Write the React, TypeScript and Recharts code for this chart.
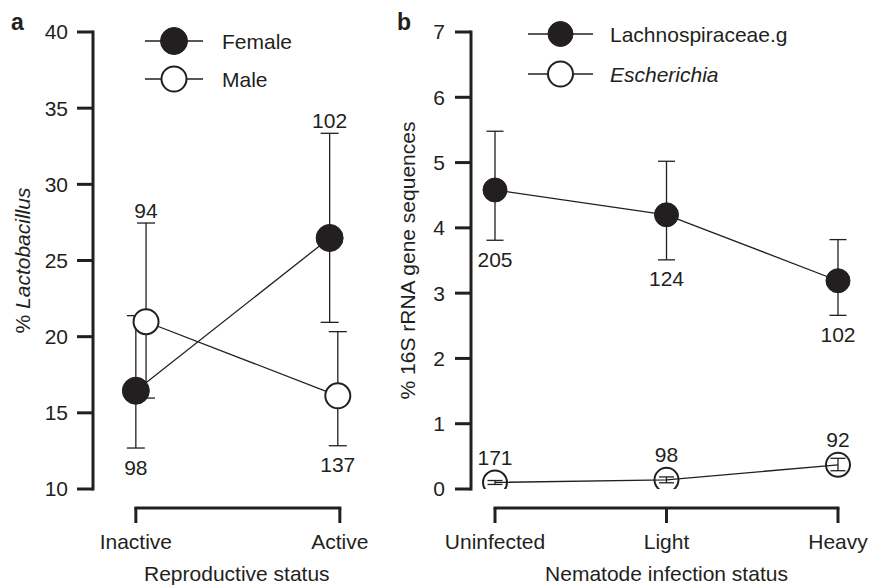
import React from 'react';
import {
  ComposedChart,
  Line,
  XAxis,
  YAxis,
  ErrorBar,
  ReferenceLine,
  LabelList,
  Legend,
  Label,
} from 'recharts';

// ---------------- data ----------------
const reproCategories = ['Inactive', 'Active'];
const femaleMean = [16.45, 26.48];
const femaleLow = [12.69, 20.94];
const femaleHigh = [21.38, 33.35];
const femaleN = [98, 102];
const femaleDodge = [0, -0.05];
const femaleLabelSide = ['below', 'above'];

const maleMean = [20.98, 16.12];
const maleLow = [15.97, 12.84];
const maleHigh = [27.46, 20.33];
const maleN = [94, 137];
const maleDodge = [0.05, -0.01];
const maleLabelSide = ['above', 'below'];

const reproTicks = [10, 15, 20, 25, 30, 35, 40];

const infectionCategories = ['Uninfected', 'Light', 'Heavy'];
const lachnoMean = [4.58, 4.2, 3.19];
const lachnoLow = [3.81, 3.51, 2.66];
const lachnoHigh = [5.48, 5.02, 3.82];
const lachnoN = [205, 124, 102];
const lachnoLabelSide = ['below', 'below', 'below'];

const escherMean = [0.1, 0.14, 0.37];
const escherLow = [0.07, 0.095, 0.28];
const escherHigh = [0.13, 0.185, 0.47];
const escherN = [171, 98, 92];
const escherLabelSide = ['marker', 'marker', 'marker'];

const infectionTicks = [0, 1, 2, 3, 4, 5, 6, 7];

const legendOrder = ['Female', 'Male', 'Lachnospiraceae.g', 'Escherichia'];

// ---------------- style ----------------
const FONT = '"Liberation Sans", Arial, Helvetica, sans-serif';
const INK = '#231f20';
const FS = 21;
const PLOT_TOP = 32;
const PLOT_BOTTOM = 489;
const CHART_H = 586;
const X_AXIS_H = CHART_H - PLOT_BOTTOM;

type Row = {
  x: number;
  mean: number;
  err: [number, number];
  n: number;
  anchor: number;
  side: string;
};

function buildRows(
  mean: number[],
  low: number[],
  high: number[],
  n: number[],
  side: string[],
  dodge?: number[]
): Row[] {
  return mean.map((m, i) => ({
    x: i + (dodge ? dodge[i] : 0),
    mean: m,
    err: [m - low[i], high[i] - m] as [number, number],
    n: n[i],
    anchor: side[i] === 'above' ? high[i] : side[i] === 'below' ? low[i] : m,
    side: side[i],
  }));
}

const femaleRows = buildRows(femaleMean, femaleLow, femaleHigh, femaleN, femaleLabelSide, femaleDodge);
const maleRows = buildRows(maleMean, maleLow, maleHigh, maleN, maleLabelSide, maleDodge);
const lachnoRows = buildRows(lachnoMean, lachnoLow, lachnoHigh, lachnoN, lachnoLabelSide);
const escherRows = buildRows(escherMean, escherLow, escherHigh, escherN, escherLabelSide);

const LABEL_DY: Record<string, number> = { above: -13, below: 19, marker: -25 };

const makeCountLabel = (rows: Row[]) => (props: any) => {
  const { x, y, index, value } = props;
  const side = rows[index] ? rows[index].side : 'above';
  return (
    <text
      x={x}
      y={y + LABEL_DY[side]}
      dy="0.36em"
      textAnchor="middle"
      fontSize={FS}
      fontFamily={FONT}
      fill={INK}
    >
      {value}
    </text>
  );
};

type SeriesStyle = { r: number; fill: string; legendFill: string; strokeWidth: number; italic: boolean };
const seriesStyles: Record<string, SeriesStyle> = {
  Female: { r: 13.5, fill: INK, legendFill: INK, strokeWidth: 1, italic: false },
  Male: { r: 12.5, fill: '#ffffff', legendFill: '#ffffff', strokeWidth: 2, italic: false },
  'Lachnospiraceae.g': { r: 12.5, fill: INK, legendFill: INK, strokeWidth: 1, italic: false },
  Escherichia: { r: 12.5, fill: 'none', legendFill: '#ffffff', strokeWidth: 2, italic: true },
};

const makeLegend =
  (rowGap: number, lineX0: number, lineX1: number, textX: number) => (props: any) => {
    const payload = ((props && props.payload) || [])
      .filter((p: any) => p && p.type !== 'none' && seriesStyles[p.value])
      .slice()
      .sort((a: any, b: any) => legendOrder.indexOf(a.value) - legendOrder.indexOf(b.value));
    const cx = (lineX0 + lineX1) / 2;
    return (
      <svg width={300} height={rowGap * 2 + 10} style={{ overflow: 'visible', display: 'block' }}>
        {payload.map((p: any, i: number) => {
          const st = seriesStyles[p.value];
          const cy = 21 + i * rowGap;
          return (
            <g key={p.value}>
              <line x1={lineX0} x2={lineX1} y1={cy} y2={cy} stroke={INK} strokeWidth={1.3} />
              <circle cx={cx} cy={cy} r={st.r} fill={st.legendFill} stroke={INK} strokeWidth={st.strokeWidth} />
              <text
                x={textX}
                y={cy}
                dy="0.36em"
                fontSize={FS}
                fontFamily={FONT}
                fill={INK}
                fontStyle={st.italic ? 'italic' : 'normal'}
              >
                {p.value}
              </text>
            </g>
          );
        })}
      </svg>
    );
  };

const makeCatTick = (cats: string[]) => (props: any) => {
  const { x, y, payload } = props;
  return (
    <text x={x} y={y + 60} textAnchor="middle" fontSize={FS} fontFamily={FONT} fill={INK}>
      {cats[payload.value]}
    </text>
  );
};

const makeYLabel = (dx: number, parts: { t: string; italic?: boolean }[]) => (props: any) => {
  const vb = props.viewBox || { x: 0, y: 0, width: 0, height: 0 };
  const cx = vb.x + dx;
  const cy = vb.y + vb.height / 2;
  return (
    <text
      x={cx}
      y={cy}
      dy="0.36em"
      transform={`rotate(-90 ${cx} ${cy})`}
      textAnchor="middle"
      fontSize={FS}
      fontFamily={FONT}
      fill={INK}
    >
      {parts.map((p, i) => (
        <tspan key={i} fontStyle={p.italic ? 'italic' : 'normal'}>
          {p.t}
        </tspan>
      ))}
    </text>
  );
};

function bracketLines(nCats: number, yMin: number, yMax: number) {
  const ppu = (PLOT_BOTTOM - PLOT_TOP) / (yMax - yMin);
  const yb = yMin - 19 / ppu;
  const yt = yMin - 34 / ppu;
  const els = [
    <ReferenceLine
      key="h"
      segment={[
        { x: 0, y: yb },
        { x: nCats - 1, y: yb },
      ]}
      stroke={INK}
      strokeWidth={3}
      strokeLinecap="square"
      ifOverflow="visible"
    />,
  ];
  for (let i = 0; i < nCats; i++) {
    els.push(
      <ReferenceLine
        key={'t' + i}
        segment={[
          { x: i, y: yb },
          { x: i, y: yt },
        ]}
        stroke={INK}
        strokeWidth={3}
        ifOverflow="visible"
      />
    );
  }
  return els;
}

const axisLineStyle = { stroke: INK, strokeWidth: 3, strokeLinecap: 'square' as const };
const tickLineStyle = { stroke: INK, strokeWidth: 3 };
const tickTextStyle = { fill: INK, fontSize: FS, fontFamily: FONT };

function PanelA() {
  return (
    <ComposedChart width={390} height={CHART_H} margin={{ top: PLOT_TOP, right: 9.36, bottom: 0, left: 23 }}>
      <XAxis
        type="number"
        dataKey="x"
        domain={[-0.21, 1.2]}
        ticks={[0, 1]}
        axisLine={false}
        tickLine={false}
        tickSize={0}
        tickMargin={0}
        height={X_AXIS_H}
        tick={makeCatTick(reproCategories)}
        allowDataOverflow
      >
        <Label value="Reproductive status" position="insideBottom" offset={5} fill={INK} fontSize={FS} fontFamily={FONT} />
      </XAxis>
      <YAxis
        type="number"
        domain={[10, 40]}
        ticks={reproTicks}
        width={70}
        axisLine={axisLineStyle}
        tickLine={tickLineStyle}
        tickSize={16}
        tickMargin={9}
        tick={tickTextStyle}
        allowDataOverflow
      >
        <Label content={makeYLabel(-1, [{ t: '% ' }, { t: 'Lactobacillus', italic: true }])} />
      </YAxis>
      {bracketLines(reproCategories.length, 10, 40)}
      <Legend
        layout="vertical"
        align="center"
        verticalAlign="middle"
        wrapperStyle={{ left: 140, top: 20, width: 260 }}
        content={makeLegend(38, 5, 63, 82)}
      />
      <Line data={maleRows} dataKey="mean" stroke="none" dot={false} activeDot={false} legendType="none" isAnimationActive={false}>
        <ErrorBar dataKey="err" direction="y" width={9} stroke={INK} strokeWidth={1.3} />
      </Line>
      <Line data={femaleRows} dataKey="mean" stroke="none" dot={false} activeDot={false} legendType="none" isAnimationActive={false}>
        <ErrorBar dataKey="err" direction="y" width={9} stroke={INK} strokeWidth={1.3} />
      </Line>
      <Line
        data={femaleRows}
        dataKey="mean"
        name="Female"
        stroke={INK}
        strokeWidth={1.3}
        dot={{ r: 13.5, fill: INK, stroke: INK, strokeWidth: 1 }}
        activeDot={false}
        isAnimationActive={false}
      />
      <Line
        data={maleRows}
        dataKey="mean"
        name="Male"
        stroke={INK}
        strokeWidth={1.3}
        dot={{ r: 12.5, fill: '#ffffff', stroke: INK, strokeWidth: 2 }}
        activeDot={false}
        isAnimationActive={false}
      />
      <Line data={femaleRows} dataKey="anchor" stroke="none" dot={false} activeDot={false} legendType="none" isAnimationActive={false}>
        <LabelList dataKey="n" content={makeCountLabel(femaleRows)} />
      </Line>
      <Line data={maleRows} dataKey="anchor" stroke="none" dot={false} activeDot={false} legendType="none" isAnimationActive={false}>
        <LabelList dataKey="n" content={makeCountLabel(maleRows)} />
      </Line>
    </ComposedChart>
  );
}

function PanelB() {
  return (
    <ComposedChart width={479} height={CHART_H} margin={{ top: PLOT_TOP, right: 7, bottom: 0, left: 31 }}>
      <XAxis
        type="number"
        dataKey="x"
        domain={[-0.14, 2.14]}
        ticks={[0, 1, 2]}
        axisLine={false}
        tickLine={false}
        tickSize={0}
        tickMargin={0}
        height={X_AXIS_H}
        tick={makeCatTick(infectionCategories)}
        allowDataOverflow
      >
        <Label value="Nematode infection status" position="insideBottom" offset={5} fill={INK} fontSize={FS} fontFamily={FONT} />
      </XAxis>
      <YAxis
        type="number"
        domain={[0, 7]}
        ticks={infectionTicks}
        width={50}
        axisLine={axisLineStyle}
        tickLine={tickLineStyle}
        tickSize={16}
        tickMargin={10}
        tick={tickTextStyle}
        allowDataOverflow
      >
        <Label content={makeYLabel(-14, [{ t: '% 16S rRNA gene sequences' }])} />
      </YAxis>
      {bracketLines(infectionCategories.length, 0, 7)}
      <Legend
        layout="vertical"
        align="center"
        verticalAlign="middle"
        wrapperStyle={{ left: 130, top: 13, width: 320 }}
        content={makeLegend(40, 8, 73, 90)}
      />
      <Line data={lachnoRows} dataKey="mean" stroke="none" dot={false} activeDot={false} legendType="none" isAnimationActive={false}>
        <ErrorBar dataKey="err" direction="y" width={8.5} stroke={INK} strokeWidth={1.3} />
      </Line>
      <Line data={escherRows} dataKey="mean" stroke="none" dot={false} activeDot={false} legendType="none" isAnimationActive={false}>
        <ErrorBar dataKey="err" direction="y" width={7.5} stroke={INK} strokeWidth={1.3} />
      </Line>
      <Line
        data={lachnoRows}
        dataKey="mean"
        name="Lachnospiraceae.g"
        stroke={INK}
        strokeWidth={1.3}
        dot={{ r: 12, fill: INK, stroke: INK, strokeWidth: 1 }}
        activeDot={false}
        isAnimationActive={false}
      />
      <Line
        data={escherRows}
        dataKey="mean"
        name="Escherichia"
        stroke={INK}
        strokeWidth={1.3}
        dot={{ r: 12, fill: 'none', stroke: INK, strokeWidth: 2 }}
        activeDot={false}
        isAnimationActive={false}
      />
      <Line data={lachnoRows} dataKey="anchor" stroke="none" dot={false} activeDot={false} legendType="none" isAnimationActive={false}>
        <LabelList dataKey="n" content={makeCountLabel(lachnoRows)} />
      </Line>
      <Line data={escherRows} dataKey="anchor" stroke="none" dot={false} activeDot={false} legendType="none" isAnimationActive={false}>
        <LabelList dataKey="n" content={makeCountLabel(escherRows)} />
      </Line>
    </ComposedChart>
  );
}

export default function App() {
  return (
    <div style={{ position: 'absolute', left: 0, top: 0, width: 869, height: 586, background: '#ffffff', overflow: 'hidden' }}>
      <div style={{ position: 'absolute', left: 0, top: 0 }}>
        <PanelA />
      </div>
      <div style={{ position: 'absolute', left: 390, top: 0 }}>
        <PanelB />
      </div>
      <svg width={869} height={586} style={{ position: 'absolute', left: 0, top: 0, pointerEvents: 'none' }}>
        <text x={11} y={30} fontSize={23} fontWeight="bold" fontFamily={FONT} fill={INK}>
          a
        </text>
        <text x={397} y={30} fontSize={23} fontWeight="bold" fontFamily={FONT} fill={INK}>
          b
        </text>
      </svg>
    </div>
  );
}
